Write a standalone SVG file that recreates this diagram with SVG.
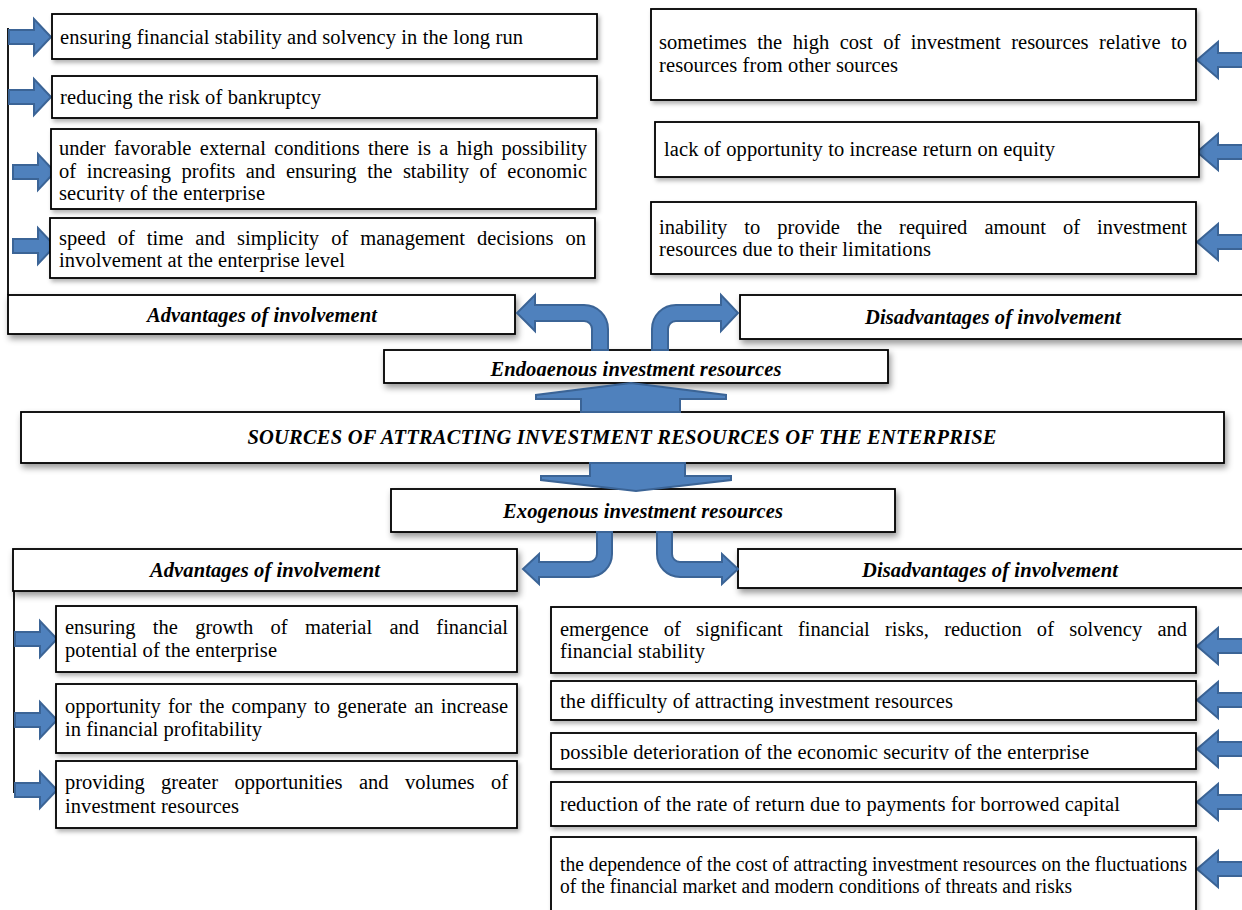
<svg xmlns="http://www.w3.org/2000/svg" width="1242" height="910" viewBox="0 0 1242 910">
<style>
.box{fill:#fff;stroke:#000;stroke-width:1.8;filter:url(#sh)}
.hdr{fill:#fff;stroke:#000;stroke-width:1.8;filter:url(#shh)}
.t{font-family:"Liberation Serif","Times New Roman",serif;font-size:20.5px;fill:#000}
.h{font-family:"Liberation Serif","Times New Roman",serif;font-size:20.5px;font-weight:bold;font-style:italic;fill:#000;text-anchor:middle}
.arr{fill:#4F81BD;stroke:#3B6496;stroke-width:2;stroke-linejoin:miter}
.ln{stroke:#000;stroke-width:1.8;fill:none}
</style>
<defs>
<filter id="sh" x="-5%" y="-10%" width="112%" height="140%">
<feDropShadow dx="2" dy="3" stdDeviation="2" flood-color="#000" flood-opacity="0.3"/>
</filter>
<filter id="shh" x="-5%" y="-20%" width="112%" height="160%">
<feDropShadow dx="2" dy="4" stdDeviation="3" flood-color="#000" flood-opacity="0.4"/>
</filter>
<path id="aR" d="M-42,-7 H-17 V-18 L0,0 L-17,18 V7 H-42 Z"/>
<path id="aL" d="M0,0 L21,-18 V-7 H55 V7 H21 V18 Z"/>
<clipPath id="cB3"><rect x="51" y="129" width="545" height="73"/></clipPath>
<clipPath id="cEn"><rect x="384" y="350" width="505" height="26"/></clipPath>
<clipPath id="cR3"><rect x="551" y="733" width="645" height="27"/></clipPath>
</defs>
<rect width="1242" height="910" fill="#fff"/>

<g id="connectors">
<path class="ln" d="M8,28 V295"/>
<path class="ln" d="M14,591 V793"/>
<use href="#aR" class="arr" transform="translate(51,37)"/>
<use href="#aR" class="arr" transform="translate(51,97)"/>
<use href="#aR" class="arr" transform="translate(55,172)"/>
<use href="#aR" class="arr" transform="translate(55,246)"/>
<use href="#aL" class="arr" transform="translate(1197,60)"/>
<use href="#aL" class="arr" transform="translate(1197,152)"/>
<use href="#aL" class="arr" transform="translate(1197,242)"/>
<use href="#aR" class="arr" transform="translate(57,639)"/>
<use href="#aR" class="arr" transform="translate(57,720)"/>
<use href="#aR" class="arr" transform="translate(57,790)"/>
<use href="#aL" class="arr" transform="translate(1197,646)"/>
<use href="#aL" class="arr" transform="translate(1197,700)"/>
<use href="#aL" class="arr" transform="translate(1197,749)"/>
<use href="#aL" class="arr" transform="translate(1197,802)"/>
<use href="#aL" class="arr" transform="translate(1197,869)"/>
</g>

<g id="adv-top">
<rect class="hdr" x="8" y="295" width="507" height="39"/>
<text class="h" x="262" y="322" textLength="230" lengthAdjust="spacing">Advantages of involvement</text>
</g>
<g id="adv-top-1">
<rect class="box" x="52" y="14" width="545" height="45"/>
<text class="t" x="60" y="44" textLength="463" lengthAdjust="spacing">ensuring financial stability and solvency in the long run</text>
</g>
<g id="adv-top-2">
<rect class="box" x="52" y="76" width="545" height="42"/>
<text class="t" x="60" y="104" textLength="261" lengthAdjust="spacing">reducing the risk of bankruptcy</text>
</g>
<g id="adv-top-3">
<rect class="box" x="51" y="129" width="545" height="80"/>
<text class="t" x="59" y="155" word-spacing="3.2" textLength="528" lengthAdjust="spacing">under favorable external conditions there is a high possibility</text>
<text class="t" x="59" y="178" word-spacing="5.5" textLength="528" lengthAdjust="spacing">of increasing profits and ensuring the stability of economic</text>
<text class="t" x="59" y="200" clip-path="url(#cB3)" textLength="206" lengthAdjust="spacing">security of the enterprise</text>
</g>
<g id="adv-top-4">
<rect class="box" x="50" y="218" width="545" height="60"/>
<text class="t" x="59" y="245" word-spacing="6.9" textLength="527" lengthAdjust="spacing">speed of time and simplicity of management decisions on</text>
<text class="t" x="59" y="267" textLength="286" lengthAdjust="spacing">involvement at the enterprise level</text>
</g>

<g id="dis-top">
<rect class="hdr" x="740" y="295" width="512" height="44"/>
<text class="h" x="993" y="324" textLength="256" lengthAdjust="spacing">Disadvantages of involvement</text>
</g>
<g id="dis-top-1">
<rect class="box" x="651" y="9" width="545" height="91"/>
<text class="t" x="659" y="49" word-spacing="5.4" textLength="528" lengthAdjust="spacing">sometimes the high cost of investment resources relative to</text>
<text class="t" x="659" y="72" textLength="239" lengthAdjust="spacing">resources from other sources</text>
</g>
<g id="dis-top-2">
<rect class="box" x="655" y="122" width="544" height="55"/>
<text class="t" x="664" y="156" textLength="391" lengthAdjust="spacing">lack of opportunity to increase return on equity</text>
</g>
<g id="dis-top-3">
<rect class="box" x="651" y="202" width="545" height="72"/>
<text class="t" x="659" y="234" word-spacing="11.9" textLength="528" lengthAdjust="spacing">inability to provide the required amount of investment</text>
<text class="t" x="659" y="256" textLength="272" lengthAdjust="spacing">resources due to their limitations</text>
</g>

<g id="sources">
<rect class="hdr" x="21" y="412" width="1203" height="51"/>
<text class="h" x="622" y="444" textLength="749" lengthAdjust="spacing">SOURCES OF ATTRACTING INVESTMENT RESOURCES OF THE ENTERPRISE</text>
</g>
<g id="endogenous">
<rect class="hdr" x="384" y="350" width="504" height="33"/>
<text class="h" x="636" y="376" clip-path="url(#cEn)" textLength="291" lengthAdjust="spacing">Endogenous investment resources</text>
</g>
<g id="exogenous">
<rect class="hdr" x="391" y="489" width="504" height="43"/>
<text class="h" x="643" y="518" textLength="280" lengthAdjust="spacing">Exogenous investment resources</text>
</g>

<g id="adv-bot">
<rect class="hdr" x="13" y="549" width="504" height="42"/>
<text class="h" x="265" y="577" textLength="230" lengthAdjust="spacing">Advantages of involvement</text>
</g>
<g id="adv-bot-1">
<rect class="box" x="56" y="606" width="461" height="66"/>
<text class="t" x="65" y="634" word-spacing="12.2" textLength="443" lengthAdjust="spacing">ensuring the growth of material and financial</text>
<text class="t" x="65" y="657" textLength="212" lengthAdjust="spacing">potential of the enterprise</text>
</g>
<g id="adv-bot-2">
<rect class="box" x="56" y="684" width="461" height="69"/>
<text class="t" x="65" y="713" word-spacing="2.2" textLength="443" lengthAdjust="spacing">opportunity for the company to generate an increase</text>
<text class="t" x="65" y="736" textLength="197" lengthAdjust="spacing">in financial profitability</text>
</g>
<g id="adv-bot-3">
<rect class="box" x="56" y="761" width="461" height="67"/>
<text class="t" x="65" y="789" word-spacing="11.3" textLength="443" lengthAdjust="spacing">providing greater opportunities and volumes of</text>
<text class="t" x="65" y="813" textLength="174" lengthAdjust="spacing">investment resources</text>
</g>

<g id="dis-bot">
<rect class="hdr" x="738" y="549" width="514" height="39"/>
<text class="h" x="990" y="577" textLength="256" lengthAdjust="spacing">Disadvantages of involvement</text>
</g>
<g id="dis-bot-1">
<rect class="box" x="551" y="607" width="645" height="66"/>
<text class="t" x="560" y="636" word-spacing="10.1" textLength="627" lengthAdjust="spacing">emergence of significant financial risks, reduction of solvency and</text>
<text class="t" x="560" y="658" textLength="145" lengthAdjust="spacing">financial stability</text>
</g>
<g id="dis-bot-2">
<rect class="box" x="551" y="681" width="645" height="39"/>
<text class="t" x="560" y="708" textLength="393" lengthAdjust="spacing">the difficulty of attracting investment resources</text>
</g>
<g id="dis-bot-3">
<rect class="box" x="551" y="733" width="645" height="36"/>
<text class="t" x="560" y="759" clip-path="url(#cR3)" textLength="529" lengthAdjust="spacing">possible deterioration of the economic security of the enterprise</text>
</g>
<g id="dis-bot-4">
<rect class="box" x="551" y="782" width="645" height="44"/>
<text class="t" x="560" y="811" textLength="560" lengthAdjust="spacing">reduction of the rate of return due to payments for borrowed capital</text>
</g>
<g id="dis-bot-5">
<rect class="box" x="551" y="837" width="645" height="85"/>
<text class="t" x="560" y="871" textLength="627" lengthAdjust="spacingAndGlyphs">the dependence of the cost of attracting investment resources on the fluctuations</text>
<text class="t" x="560" y="893" textLength="512" lengthAdjust="spacingAndGlyphs">of the financial market and modern conditions of threats and risks</text>
</g>

<g id="flow-arrows">
<path class="arr" d="M592,350 V329 A8,8 0 0 0 584,321 H535 V331 L517,313 L535,295 V305 H584 A24,24 0 0 1 608,329 V350 Z"/>
<path class="arr" d="M668,350 V329 A8,8 0 0 1 676,321 H721 V331 L738,313 L721,295 V305 H676 A24,24 0 0 0 652,329 V350 Z"/>
<path class="arr" d="M581,412 V399 H536 V395 L631,383 L726,395 V399 H680 V412 Z"/>
<path class="arr" d="M590,463 V476 H541 V480 L636,491 L731,480 V476 H685 V463 Z"/>
<path class="arr" d="M597,532 V554 A8,8 0 0 1 589,562 H539 V554 L523,569 L539,584 V577 H589 A23,23 0 0 0 612,554 V532 Z"/>
<path class="arr" d="M672,532 V554 A8,8 0 0 0 680,562 H722 V554 L738,569 L722,584 V577 H680 A23,23 0 0 1 657,554 V532 Z"/>
</g>
</svg>
